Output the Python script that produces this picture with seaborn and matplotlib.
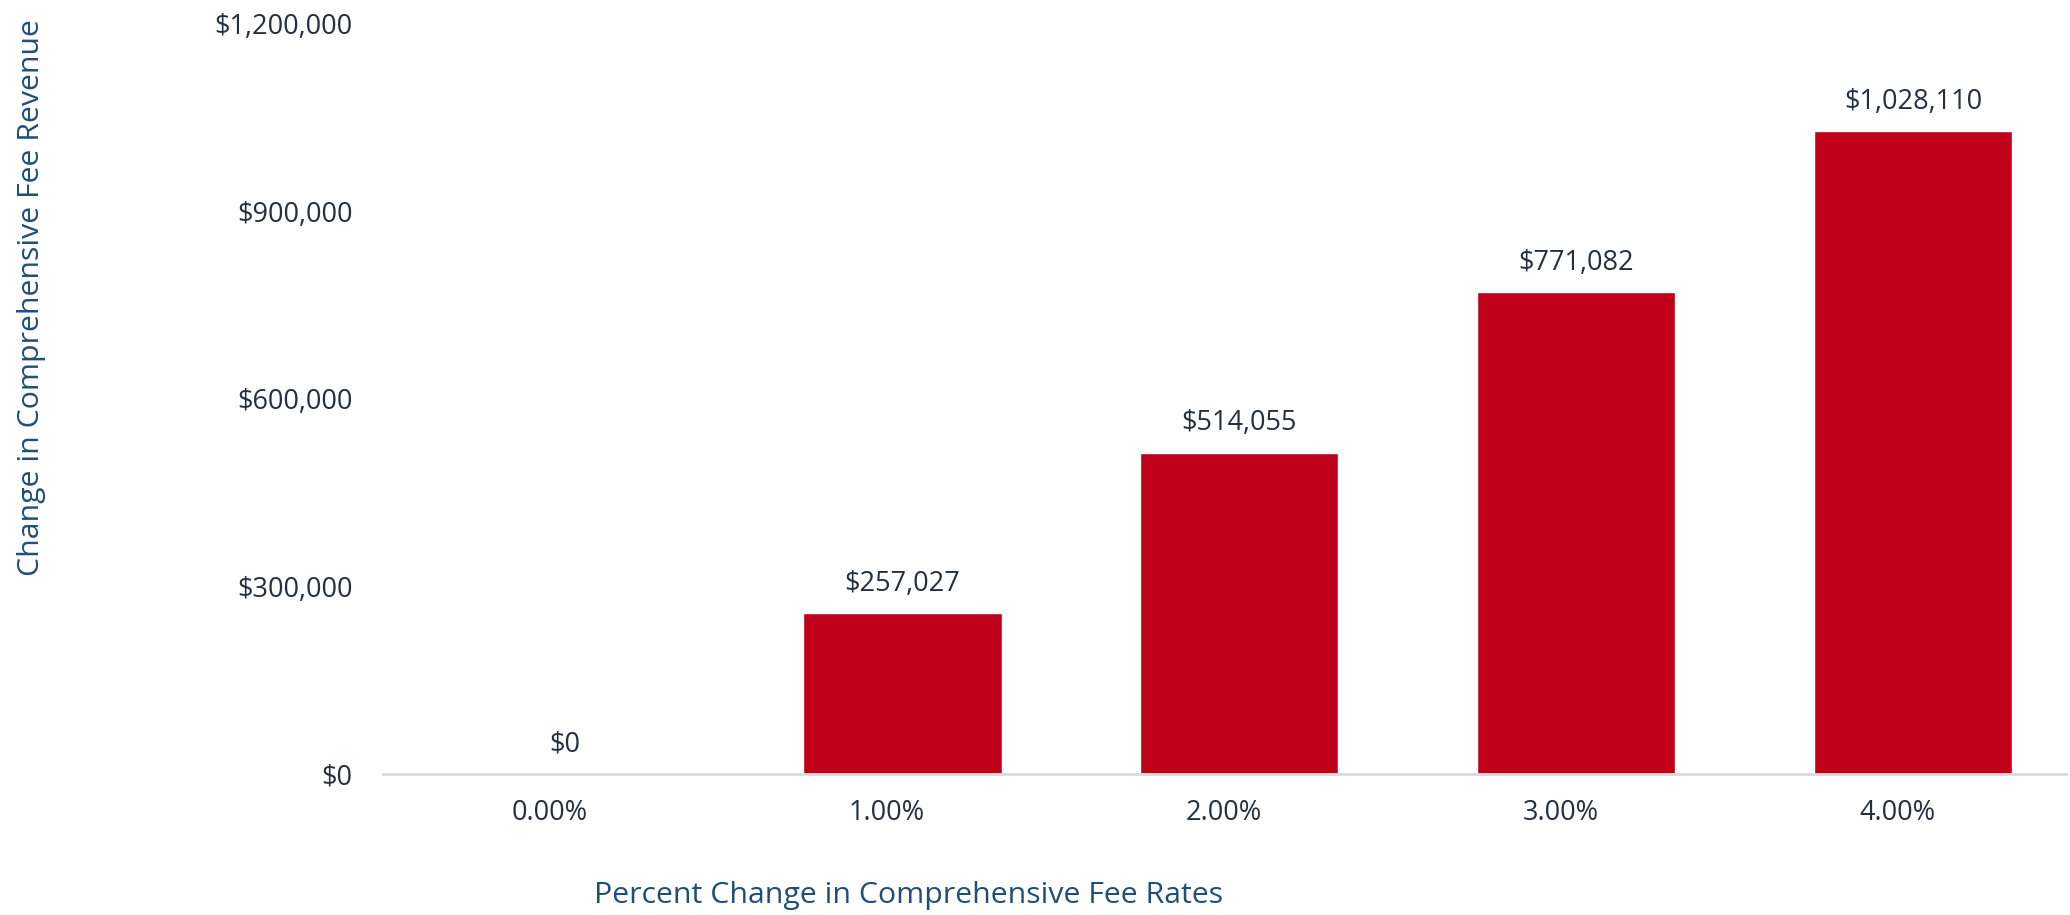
import matplotlib
matplotlib.use("Agg")
import matplotlib.pyplot as plt
import seaborn as sns

# chart data
rate_changes = ["0.00%", "1.00%", "2.00%", "3.00%", "4.00%"]
revenue_change = [0, 257027, 514055, 771082, 1028110]
y_ticks = [0, 300000, 600000, 900000, 1200000]

bar_color = "#C0001A"
text_color = "#243040"
label_color = "#1F4E79"

sns.set_style("white")
plt.rcParams["font.family"] = ["Open Sans", "DejaVu Sans"]

fig = plt.figure(figsize=(20.7, 9.15), dpi=100)
ax = fig.add_axes([0.185, 0.154, 0.813, 0.820])

sns.barplot(x=rate_changes, y=revenue_change, color=bar_color,
            width=0.59, saturation=1, ax=ax)

# value labels above bars
ax.bar_label(ax.containers[0], labels=[f"${v:,.0f}" for v in revenue_change],
             padding=11, fontsize=19.5, color=text_color)

ax.set_ylim(0, 1200000)
ax.set_xlim(-0.541, 4.454)
# category labels sit slightly left of the bar centres, as in the original
ax.set_xticks([i - 0.045 for i in range(len(rate_changes))])
ax.set_xticklabels(rate_changes)
ax.set_yticks(y_ticks)
ax.set_yticklabels([f"${v:,.0f}" for v in y_ticks], fontsize=19.5, color=text_color)
ax.tick_params(axis="x", labelsize=19.5, labelcolor=text_color, pad=18, length=0)
ax.tick_params(axis="y", pad=22, length=0)

for side in ["top", "right", "left"]:
    ax.spines[side].set_visible(False)
ax.spines["bottom"].set_color("#D9D9D9")
ax.spines["bottom"].set_linewidth(2)

ax.set_xlabel("Percent Change in Comprehensive Fee Rates", fontsize=21.8, color=label_color)
ax.set_ylabel("Change in Comprehensive Fee Revenue", fontsize=21.8, color=label_color)
ax.xaxis.set_label_coords(0.3125, -0.142)
ax.yaxis.set_label_coords(-0.2, 0.635)

fig.savefig("out.png", dpi=100)
